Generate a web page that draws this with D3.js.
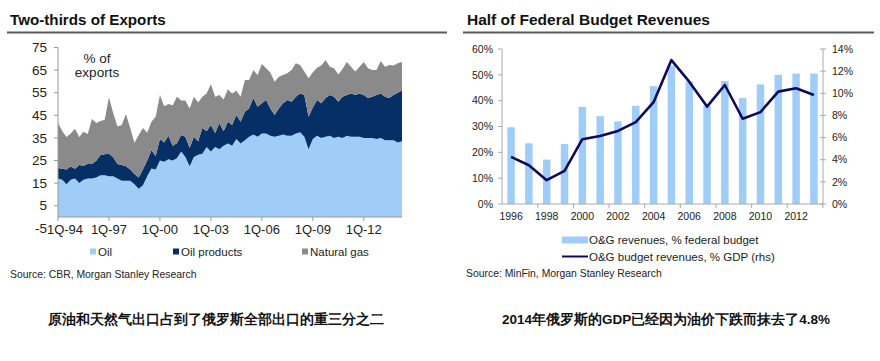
<!DOCTYPE html>
<html>
<head>
<meta charset="utf-8">
<script src="https://cdn.jsdelivr.net/npm/d3@7/dist/d3.min.js"></script>
<style>
  html, body { margin: 0; padding: 0; background: #fff; }
  svg { display: block; }
  text { font-family: "Liberation Sans", Arial, sans-serif; }
</style>
</head>
<body>
<svg id="chart" width="880" height="361"></svg>
<script>
// ---------- Left chart data (quarterly, 1Q-94 .. 2Q-14), % of exports ----------
const startYear = 1994;
const oil = [17,16.5,14.5,16.5,17,15,16.5,17,17,17.5,18.5,18.5,18,18,17,16,16,16,14.5,12.5,
  14,18,21.5,21,25,24.5,25.5,25,26,29,26.5,22.5,26.5,27.5,28,31,29,31,30,31.5,
  32.5,31.5,34.5,32.5,34,35.5,36.5,35.5,37,37,36,35.5,36,36.5,36,36,37,37.5,35.5,30,
  34.5,36,35,35.5,36,35,35.5,35,36,35.5,35.5,35.5,35,35,35,34.5,35,34,34,34,33,33.5];
const oilProducts = [4.7,4.8,6.5,5.8,4.3,8,6.2,6.4,6.4,7.4,8.9,9.3,10,8.4,6.4,7,6.5,5,4.5,5,
  7,7,8,6,9.5,8.5,10.5,6.5,6.6,7.3,9,8,9,6,11.4,6.9,11.7,6.2,11.5,6.4,
  9.7,9.2,10.6,9.7,12.6,12.5,16.1,13.3,13.3,14.8,12,9.6,12,13.8,15.8,15,16.2,17.2,18.5,14.4,
  14,15.8,15.3,17.1,18,18.2,15.5,18.2,18,19.2,18.5,19.2,19,17.6,18.2,19.5,19.7,19.2,18.6,20,22,22.5];
const naturalGas = [19.9,16.7,14.4,14.7,17.7,12.4,15,13.3,20,16.7,15.1,15.2,25,19.6,16.6,17.7,23.1,18.4,13.9,18.8,
  18.4,12.3,12.7,17.4,19.5,16,14,18,20.6,15.2,16,17.5,17.7,17.2,13.8,16.8,18,16,12.5,14.1,
  14.3,14,10.8,11,14,12.6,12.4,14,17.4,14,15.9,14.8,14.1,12.5,11.8,14,14.8,12.6,10.4,17,
  15.5,14.2,16.7,16.9,12.5,12.6,12,12.3,14.6,11.8,10.4,11.8,14.6,13.2,11.8,11,14.3,13.3,14.7,13,13,12.6];
const leftYTicks = [-5,5,15,25,35,45,55,65,75];
const leftXTickLabels = ["1Q-94","1Q-97","1Q-00","1Q-03","1Q-06","1Q-09","1Q-12"];
const leftSeries = ["Oil","Oil products","Natural gas"];

// ---------- Right chart data ----------
const years = [1996,1997,1998,1999,2000,2001,2002,2003,2004,2005,2006,2007,2008,2009,2010,2011,2012,2013];
const ogFederal = [29.7,23.5,17.2,23.2,37.6,34,32,38,45.6,53.5,47.4,38,47.6,41,46.3,50,50.5,50.5];
const ogGDP = [4.25,3.5,2.15,3.0,5.85,6.15,6.6,7.4,9.2,13.0,11.05,8.8,10.75,7.7,8.3,10.15,10.45,9.85];
const rightLeftTicks = [0,10,20,30,40,50,60];
const rightRightTicks = [0,2,4,6,8,10,12,14];
const rightXLabels = [1996,1998,2000,2002,2004,2006,2008,2010,2012];

const colOil = "#9fcdf7", colProd = "#062f66", colGas = "#8a8a8a";
const colBar = "#9fcdf7", colLine = "#0b0b5c";

const svg = d3.select("#chart");

// ================= LEFT CHART =================
svg.append("text").attr("x", 10).attr("y", 25).attr("font-size", 15.2).attr("font-weight", "bold")
  .attr("fill", "#111").text("Two-thirds of Exports");
svg.append("line").attr("x1", 7).attr("x2", 447).attr("y1", 32.5).attr("y2", 32.5)
  .attr("stroke", "#5a5a5a").attr("stroke-width", 2);

const n = oil.length;
const table = d3.range(n).map(i => ({ i, "Oil": oil[i], "Oil products": oilProducts[i], "Natural gas": naturalGas[i] }));
const xL = d3.scaleLinear().domain([0, n - 1]).range([58, 402]);
const yL = d3.scaleLinear().domain([-5, 75]).range([228.3, 47.5]);
const stack = d3.stack().keys(leftSeries)(table);
const area = d3.area().x(d => xL(d.data.i)).y0(d => yL(d[0])).y1(d => yL(d[1]));
const colors = { "Oil": colOil, "Oil products": colProd, "Natural gas": colGas };
svg.append("g").selectAll("path").data(stack).join("path")
  .attr("d", area).attr("fill", d => colors[d.key]);

// y axis
const gy = svg.append("g");
gy.append("line").attr("x1", 58).attr("x2", 58).attr("y1", yL(75)).attr("y2", yL(0)).attr("stroke", "#999");
gy.selectAll("line.t").data(leftYTicks.filter(v => v >= 0)).join("line").attr("class", "t")
  .attr("x1", 54).attr("x2", 58).attr("y1", d => yL(d)).attr("y2", d => yL(d)).attr("stroke", "#999");
gy.selectAll("text").data(leftYTicks).join("text")
  .attr("x", 47).attr("y", d => yL(d)).attr("dy", "0.35em").attr("text-anchor", "end")
  .attr("font-size", 13.5).attr("fill", "#222").text(d => d);

// x axis
const gx = svg.append("g");
gx.append("line").attr("x1", 58).attr("x2", 402).attr("y1", yL(0)).attr("y2", yL(0)).attr("stroke", "#999");
const xTickIdx = leftXTickLabels.map((l, k) => k * 12);
gx.selectAll("line.t").data(xTickIdx).join("line").attr("class", "t")
  .attr("x1", d => xL(d)).attr("x2", d => xL(d)).attr("y1", yL(0)).attr("y2", yL(0) + 4).attr("stroke", "#999");
gx.selectAll("text").data(leftXTickLabels).join("text")
  .attr("x", (d, k) => xL(xTickIdx[k]) + (k === 0 ? 7 : 0)).attr("y", 229).attr("dy", "0.35em")
  .attr("text-anchor", "middle").attr("font-size", 13).attr("fill", "#222").text(d => d);

// label
svg.append("text").attr("x", 97).attr("y", 58).attr("dy", "0.35em").attr("text-anchor", "middle")
  .attr("font-size", 13.5).attr("fill", "#222").text("% of");
svg.append("text").attr("x", 97).attr("y", 72).attr("dy", "0.35em").attr("text-anchor", "middle")
  .attr("font-size", 13.5).attr("fill", "#222").text("exports");

// legend
const legX = [90, 173, 302];
const lg = svg.append("g");
leftSeries.forEach((s, k) => {
  lg.append("rect").attr("x", legX[k]).attr("y", 248.5).attr("width", 6).attr("height", 6).attr("fill", colors[s]);
  lg.append("text").attr("x", legX[k] + 8).attr("y", 252).attr("dy", "0.35em").attr("font-size", 11.5)
    .attr("fill", "#222").text(s);
});
svg.append("text").attr("x", 10).attr("y", 274).attr("dy", "0.35em").attr("font-size", 10.4)
  .attr("fill", "#222").text("Source: CBR, Morgan Stanley Research");

// ================= RIGHT CHART =================
svg.append("text").attr("x", 467).attr("y", 25).attr("font-size", 15.5).attr("font-weight", "bold")
  .attr("fill", "#111").text("Half of Federal Budget Revenues");
svg.append("line").attr("x1", 463).attr("x2", 874).attr("y1", 32.5).attr("y2", 32.5)
  .attr("stroke", "#5a5a5a").attr("stroke-width", 2);

const xR = d3.scaleBand().domain(years).range([502, 823]).paddingInner(0.58).paddingOuter(0.3);
const yRL = d3.scaleLinear().domain([0, 60]).range([204, 49]);
const yRR = d3.scaleLinear().domain([0, 14]).range([204, 49]);

svg.append("g").selectAll("rect").data(years).join("rect")
  .attr("x", d => xR(d)).attr("width", xR.bandwidth())
  .attr("y", (d, i) => yRL(ogFederal[i])).attr("height", (d, i) => yRL(0) - yRL(ogFederal[i]))
  .attr("fill", colBar);

const line = d3.line().x((d, i) => xR(years[i]) + xR.bandwidth() / 2).y(d => yRR(d));
svg.append("path").datum(ogGDP).attr("d", line).attr("fill", "none")
  .attr("stroke", colLine).attr("stroke-width", 2.6).attr("stroke-linejoin", "round");

// axes
const ax = svg.append("g").attr("stroke", "#aaa");
ax.append("line").attr("x1", 502).attr("x2", 502).attr("y1", 49).attr("y2", 204);
ax.append("line").attr("x1", 823).attr("x2", 823).attr("y1", 49).attr("y2", 204);
ax.append("line").attr("x1", 502).attr("x2", 823).attr("y1", 204).attr("y2", 204);
ax.selectAll("line.l").data(rightLeftTicks).join("line").attr("class", "l")
  .attr("x1", 498).attr("x2", 502).attr("y1", d => yRL(d)).attr("y2", d => yRL(d));
ax.selectAll("line.r").data(rightRightTicks).join("line").attr("class", "r")
  .attr("x1", 820).attr("x2", 826).attr("y1", d => yRR(d)).attr("y2", d => yRR(d));
const bStep = xR.step();
ax.selectAll("line.b").data(years.filter((y, i) => i % 2 === 1)).join("line").attr("class", "b")
  .attr("x1", d => xR(d) + xR.bandwidth() / 2 + bStep / 2).attr("x2", d => xR(d) + xR.bandwidth() / 2 + bStep / 2)
  .attr("y1", 204).attr("y2", 208);

svg.append("g").selectAll("text").data(rightLeftTicks).join("text")
  .attr("x", 493).attr("y", d => yRL(d)).attr("dy", "0.35em").attr("text-anchor", "end")
  .attr("font-size", 10.5).attr("fill", "#222").text(d => d + "%");
svg.append("g").selectAll("text").data(rightRightTicks).join("text")
  .attr("x", 832).attr("y", d => yRR(d)).attr("dy", "0.35em").attr("text-anchor", "start")
  .attr("font-size", 10.5).attr("fill", "#222").text(d => d + "%");
svg.append("g").selectAll("text").data(rightXLabels).join("text")
  .attr("x", d => xR(d) + xR.bandwidth() / 2).attr("y", 216).attr("dy", "0.35em").attr("text-anchor", "middle")
  .attr("font-size", 10.5).attr("fill", "#222").text(d => d);

// legend
svg.append("rect").attr("x", 562).attr("y", 236.5).attr("width", 26).attr("height", 7).attr("fill", colBar);
svg.append("text").attr("x", 589).attr("y", 240).attr("dy", "0.35em").attr("font-size", 11.5)
  .attr("fill", "#222").text("O&G revenues, % federal budget");
svg.append("line").attr("x1", 562).attr("x2", 588).attr("y1", 256.5).attr("y2", 256.5)
  .attr("stroke", colLine).attr("stroke-width", 2);
svg.append("text").attr("x", 589).attr("y", 256.5).attr("dy", "0.35em").attr("font-size", 11.5)
  .attr("fill", "#222").text("O&G budget revenues, % GDP (rhs)");
svg.append("text").attr("x", 466).attr("y", 273.5).attr("dy", "0.35em").attr("font-size", 10.4)
  .attr("fill", "#222").text("Source: MinFin, Morgan Stanley Research");

// ================= Captions =================
svg.append("text").attr("x", 216).attr("y", 319).attr("dy", "0.35em").attr("text-anchor", "middle")
  .attr("font-family", "'Noto Sans CJK SC', sans-serif").attr("font-weight", "bold").attr("font-size", 13.5)
  .attr("fill", "#111").text("原油和天然气出口占到了俄罗斯全部出口的重三分之二");
svg.append("text").attr("x", 666).attr("y", 319).attr("dy", "0.35em").attr("text-anchor", "middle")
  .attr("font-family", "'Noto Sans CJK SC', sans-serif").attr("font-weight", "bold").attr("font-size", 13.5)
  .attr("fill", "#111").text("2014年俄罗斯的GDP已经因为油价下跌而抹去了4.8%");
</script>
</body>
</html>
